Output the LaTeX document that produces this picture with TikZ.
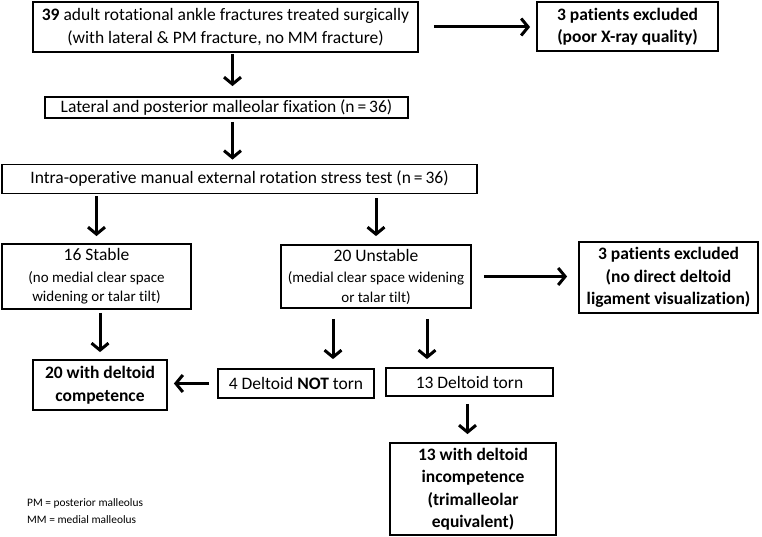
\documentclass[tikz,border=0pt]{standalone}
\usepackage{fontspec}
\setmainfont{Carlito}[Ligatures=NoCommon]
\usetikzlibrary{arrows.meta}

\newcommand{\bigf}{\fontsize{17.5}{22.5}\selectfont}
\newcommand{\smallf}{\fontsize{15}{19.5}\selectfont}

\begin{document}
\begin{tikzpicture}[
		x=1pt, y=-1pt,
		box/.style={draw, line width=1.8pt, align=center, inner sep=0pt, font=\bigf},
		boldbox/.style={box, font=\bigf\bfseries},
		arr/.style={line width=3pt, -{Straight Barb[length=7pt, width=17pt]}},
		key/.style={anchor=west, align=left, inner sep=0pt, font=\fontsize{11.4}{17}\selectfont}
		]

	\useasboundingbox (0, 0) rectangle (762, 537);

	% Top row
	\node[box, minimum width=385, minimum height=50] (start) at (225.5, 27)
		{\textbf{39} adult rotational ankle fractures treated surgically\\(with lateral \& PM fracture, no MM fracture)};
	\node[boldbox, minimum width=181, minimum height=49] (excl1) at (627.5, 26.5)
		{3 patients excluded\\(poor X-ray quality)};

	% Fixation and stress test
	\node[box, minimum width=363, minimum height=21] (fix) at (226.5, 107.5)
		{Lateral and posterior malleolar fixation (n\,=\,36)};
	\node[box, minimum width=475, minimum height=29] (test) at (239.5, 179)
		{Intra-operative manual external rotation stress test (n\,=\,36)};

	% Stable / unstable
	\node[box, minimum width=189, minimum height=65] (stable) at (96.5, 276.5)
		{16 Stable\\[-1pt]{\smallf (no medial clear space}\\[-3pt]{\smallf widening or talar tilt)}};
	\node[box, minimum width=190, minimum height=63] (unstable) at (376, 276.5)
		{20 Unstable\\[-1pt]{\smallf (medial clear space widening}\\[-3pt]{\smallf or talar tilt)}};
	\node[boldbox, minimum width=179, minimum height=71] (excl2) at (668.5, 277.5)
		{3 patients excluded\\(no direct deltoid\\ligament visualization)};

	% Deltoid
	\node[box, minimum width=156, minimum height=29] (notorn) at (296, 383.5)
		{4 Deltoid \textbf{NOT} torn};
	\node[box, minimum width=167, minimum height=28] (torn) at (469.5, 382)
		{13 Deltoid torn};
	\node[boldbox, minimum width=134, minimum height=50] (comp) at (100, 385)
		{20 with deltoid\\competence};
	\node[boldbox, minimum width=166, minimum height=92] (incomp) at (473, 489)
		{13 with deltoid\\incompetence\\(trimalleolar\\equivalent)};

	% Abbreviations
	\node[key] (abbr) at (27, 511) {PM = posterior malleolus\\MM = medial malleolus};

	% Arrows
	\draw[arr] ([xshift=15]start.east) -- ([xshift=-6]excl1.west |- start.east);
	\draw[arr] ([xshift=7, yshift=-1]start.south) -- ([xshift=7, yshift=10]start.south |- fix.north);
	\draw[arr] ([xshift=6, yshift=-3]fix.south) -- ([xshift=6, yshift=4]fix.south |- test.north);
	\draw[arr] ([yshift=-2]test.south -| stable.north) -- ([yshift=7]stable.north);
	\draw[arr] ([yshift=-4]test.south -| unstable.north) -- ([yshift=8]unstable.north);
	\draw[arr] ([xshift=12]unstable.east) -- ([xshift=-11]excl2.west |- unstable.east);
	\draw[arr] ([yshift=-3]stable.south -| comp.north) -- ([yshift=7]comp.north);
	\draw[arr] ([xshift=-43, yshift=-10]unstable.south) -- ([xshift=-43, yshift=9]unstable.south |- notorn.north);
	\draw[arr] ([xshift=51, yshift=-10]unstable.south) -- ([xshift=51, yshift=8]unstable.south |- torn.north);
	\draw[arr] ([xshift=-8]notorn.west) -- ([xshift=6]comp.east |- notorn.west);
	\draw[arr] ([xshift=-2, yshift=-7]torn.south) -- ([xshift=-2, yshift=8]torn.south |- incomp.north);

\end{tikzpicture}
\end{document}
